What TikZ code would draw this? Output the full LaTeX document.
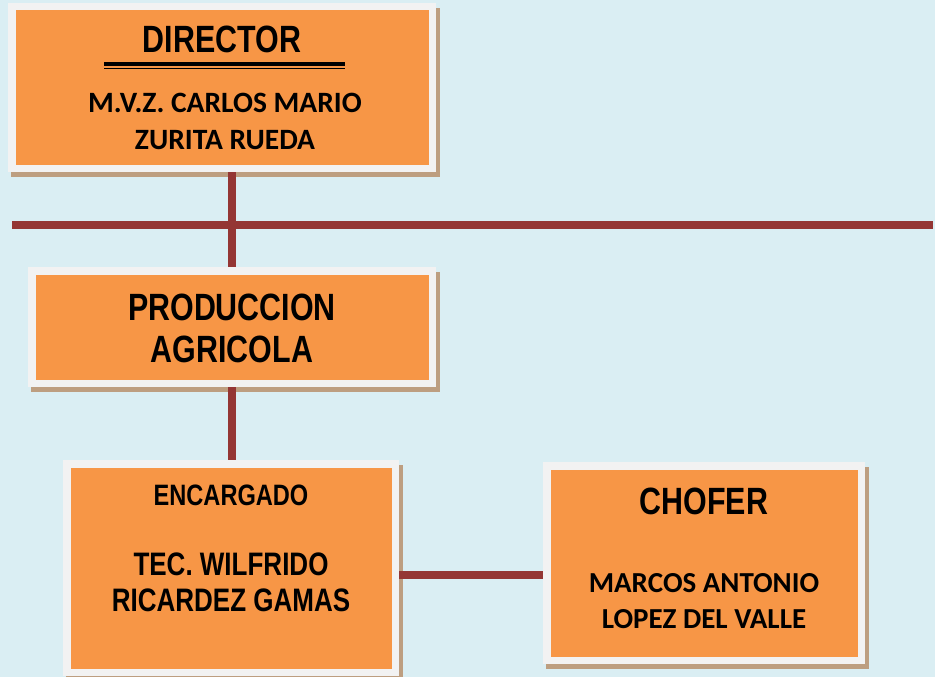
\documentclass[tikz,border=0pt]{standalone}
\usepackage{fontspec}
\newfontfamily\narrowfont[FakeStretch=0.8]{Liberation Sans}
\newfontfamily\calfont{Carlito}
\usetikzlibrary{backgrounds}
\definecolor{bgc}{HTML}{DAEEF3}
\definecolor{orangec}{HTML}{F79646}
\definecolor{framec}{HTML}{F2F2F2}
\definecolor{shadowc}{HTML}{BD9E80}
\definecolor{linec}{HTML}{943634}
\begin{document}
\begin{tikzpicture}[x=1pt,y=-1pt,
  box/.style={draw=framec, fill=orangec, line width=7.5pt, inner sep=0pt},
  conn/.style={draw=linec, line width=8pt},
  nar/.style={anchor=base, inner sep=0pt, font=\narrowfont\bfseries\fontsize{#1}{#1}\selectfont},
  cal/.style={anchor=base, inner sep=0pt, font=\calfont\bfseries\fontsize{#1}{#1}\selectfont}]
\useasboundingbox (0,0) rectangle (935,677);
% boxes
\node[box, minimum width=420.5pt, minimum height=161.5pt] (dir) at (222,87.5) {};
\node[box, minimum width=400.5pt, minimum height=112.5pt] (prod) at (232,327) {};
\node[box, minimum width=328.5pt, minimum height=208.5pt] (enc) at (231,568) {};
\node[box, minimum width=314.5pt, minimum height=194.5pt] (chof) at (704,563) {};
% background and shadows
\begin{scope}[on background layer]
  \fill[bgc] (0,0) rectangle (935,677);
  \foreach \n in {dir,prod,enc,chof}
    \fill[shadowc] ([shift={(3,5)}]\n.north west) rectangle ([shift={(4,5)}]\n.south east);
\end{scope}
% connectors
\coordinate (busL) at (12,225);
\coordinate (busR) at (933,225);
\draw[conn] (busL) -- (busR);
\draw[conn] (prod.north |- dir.south) -- (prod.north);
\draw[conn] (prod.south) -- (prod.south |- enc.north);
\draw[conn] (enc.east |- 0,575) -- (chof.west |- 0,575);
% texts
\node[nar=38] (tdir) at (222,53) {DIRECTOR};
\draw[line width=4pt] (104,64) -- (345,64);
\draw[line width=1.5pt] (104,68.75) -- (345,68.75);
\node[cal=29.5] (tdir1) at (225,113) {M.V.Z. CARLOS MARIO};
\node[cal=29.5] (tdir2) at (225,149) {ZURITA RUEDA};
\node[nar=38] (tprod1) at (232,320) {PRODUCCION};
\node[nar=38] (tprod2) at (232,362) {AGRICOLA};
\node[nar=29.5] (tenc) at (231,505) {ENCARGADO};
\node[nar=32.5] (tenc1) at (231,575) {TEC. WILFRIDO};
\node[nar=32.5] (tenc2) at (231,611) {RICARDEZ GAMAS};
\node[nar=38] (tchof) at (704,514) {CHOFER};
\node[cal=29] (tchof1) at (704,592) {MARCOS ANTONIO};
\node[cal=29] (tchof2) at (704,628) {LOPEZ DEL VALLE};
\end{tikzpicture}
\end{document}
